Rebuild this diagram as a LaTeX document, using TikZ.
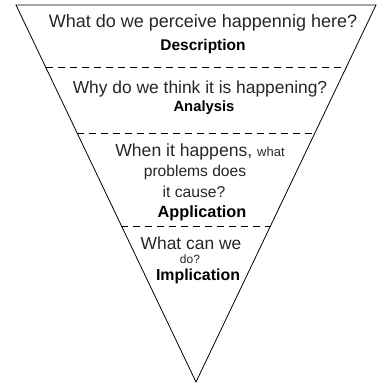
\documentclass[tikz,border=0pt]{standalone}
\usepackage{fontspec}
\setmainfont{Liberation Sans}
\usetikzlibrary{calc}
\newcommand{\fs}[1]{\fontsize{#1}{#1}\selectfont}
\begin{document}
\begin{tikzpicture}[x=1pt,y=-1pt,
  funnel/.style={draw=black,line width=0.8pt,line join=miter},
  divider/.style={draw=black,line width=0.8pt,dash pattern=on 7pt off 5pt},
  question/.style={inner sep=0pt,anchor=center,text=black!85},
  stage/.style={inner sep=0pt,anchor=center,font=\bfseries,text=black}]
\useasboundingbox (0,0) rectangle (381,383);

% inverted triangle
\coordinate (tl) at (16,5);
\coordinate (tr) at (376,5);
\coordinate (ap) at (196,382);
\draw[funnel] (tl) -- (tr) -- (ap) -- cycle;

% dashed dividers between stages
\coordinate (d1l) at ($(tl)!0.1645!(ap)$);
\coordinate (d1r) at ($(tr)!0.1645!(ap)$);
\coordinate (d2l) at ($(tl)!0.3395!(ap)$);
\coordinate (d2r) at ($(tr)!0.3395!(ap)$);
\coordinate (d3l) at ($(tl)!0.586!(ap)$);
\coordinate (d3r) at ($(tr)!0.586!(ap)$);
\draw[divider] (d1l) -- (d1r);
\draw[divider] (d2l) -- (d2r);
\draw[divider] (d3l) -- (d3r);

% stage 1
\node[question,font=\fs{18}] (q1) at (203,23) {What do we perceive happennig here?};
\node[stage,font=\fs{15.5}\bfseries] (s1) at (203,46) {Description};
% stage 2
\node[question,font=\fs{17.4}] (q2) at (200,89) {Why do we think it is happening?};
\node[stage,font=\fs{14.8}\bfseries] (s2) at (204,108) {Analysis};
% stage 3
\node[question,font=\fs{17.6}] (q3a) at (200,152) {When it happens, {\fs{13}what}};
\node[question,font=\fs{15.6}] (q3b) at (195,172) {problems does};
\node[question,font=\fs{15.7}] (q3c) at (194,192) {it cause?};
\node[stage,font=\fs{16.3}\bfseries] (s3) at (202,213) {Application};
% stage 4
\node[question,font=\fs{17.4}] (q4a) at (191,243) {What can we};
\node[question,font=\fs{12}] (q4b) at (190,259) {do?};
\node[stage,font=\fs{15.9}\bfseries] (s4) at (198,276) {Implication};
\end{tikzpicture}
\end{document}
